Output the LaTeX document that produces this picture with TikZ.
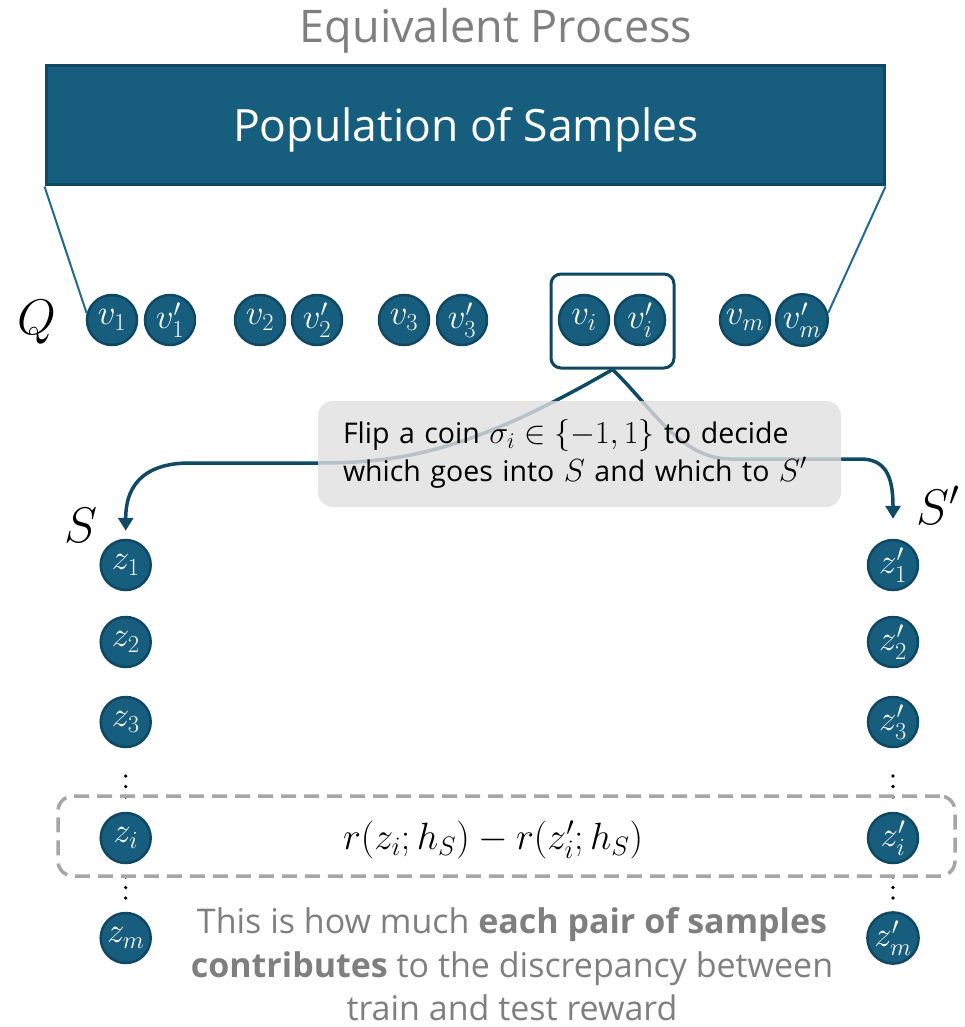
\RequirePackage{fix-cm}
\documentclass[tikz,border=0pt]{standalone}
\usepackage[no-math]{fontspec}
\newfontfamily\aptos{Open Sans}
\usetikzlibrary{arrows.meta}
\definecolor{teal1}{HTML}{175E7E}
\definecolor{tealdk}{HTML}{0F4862}
\definecolor{linec}{HTML}{1E6B8E}
\definecolor{arrc}{HTML}{0E4A66}
\definecolor{gtext}{HTML}{7F7F7F}
\definecolor{dashc}{HTML}{A6A6A6}
\definecolor{callfill}{HTML}{E0E0E0}
\tikzset{
  banner/.style={draw=tealdk, line width=3pt, fill=teal1, minimum width=838pt, minimum height=119pt, inner sep=0pt},
  smp/.style={circle, draw=tealdk, line width=2.5pt, fill=teal1, minimum size=50pt, inner sep=0pt, text=white, font=\fontsize{35}{38}\selectfont},
  selbox/.style={draw=tealdk, line width=3pt, rounded corners=10pt, minimum width=123pt, minimum height=94pt},
  conn/.style={draw=linec, line width=2pt},
  arr/.style={draw=arrc, line width=3.5pt, -{Triangle[length=13pt,width=15pt]}},
  callout/.style={rounded corners=15pt, fill=callfill, fill opacity=0.8, text opacity=1, minimum width=523pt, minimum height=106pt, text width=473pt, align=left, inner xsep=25pt, inner ysep=0pt, font=\aptos\fontsize{28.5}{38}\selectfont},
  pairbox/.style={draw=dashc, line width=3.5pt, dash pattern=on 15pt off 8pt, rounded corners=15pt, minimum width=897pt, minimum height=80pt},
  btxt/.style={anchor=base, text=gtext, font=\aptos\fontsize{34}{44}\selectfont},
  setlbl/.style={anchor=base west, font=\fontsize{50}{56}\selectfont},
}
\begin{document}
\begin{tikzpicture}[x=1pt,y=-1pt]
\useasboundingbox (0,0) rectangle (964,1027);
% title and banner
\node[anchor=base, text=gtext, font=\aptos\fontsize{45}{52}\selectfont] (title) at (496,43) {Equivalent Process};
\node[banner] (pop) at (465,125.5) {};
\node[anchor=base, text=white, font=\aptos\fontsize{44.5}{52}\selectfont] (poptxt) at (466,142) {Population of Samples};
% Q row
\node[setlbl] (Q) at (14,334) {$Q$};
\node[smp] (v1) at (112,320) {$v_1$};
\node[smp] (v1p) at (170,320) {$v'_1$};
\node[smp] (v2) at (260,320) {$v_2$};
\node[smp] (v2p) at (317,320) {$v'_2$};
\node[smp] (v3) at (404,320) {$v_3$};
\node[smp] (v3p) at (462,320) {$v'_3$};
\node[smp] (vi) at (584,320) {$v_i$};
\node[smp] (vip) at (640,320) {$v'_i$};
\node[smp] (vm) at (745,320) {$v_m$};
\node[smp] (vmp) at (802,320) {$v'_m$};
\node[selbox] (sel) at (612.5,321) {};
\draw[conn] (pop.south west) -- (v1.165);
\draw[conn] (pop.south east) -- (vmp.15);
% S and S'
\node[setlbl] (S) at (61,542) {$S$};
\node[setlbl] (Sp) at (913,524) {$S'$};
\node[smp] (z1) at (125.7,565) {$z_1$};
\node[smp] (z2) at (125.7,642) {$z_2$};
\node[smp] (z3) at (125.7,722) {$z_3$};
\node[smp] (zi) at (125.7,838) {$z_i$};
\node[smp] (zm) at (125.7,938) {$z_m$};
\node[smp] (z1p) at (893,565) {$z'_1$};
\node[smp] (z2p) at (893,642) {$z'_2$};
\node[smp] (z3p) at (893,722) {$z'_3$};
\node[smp] (zip) at (893,838) {$z'_i$};
\node[smp] (zmp) at (893,938) {$z'_m$};
\foreach \y in {776,786.5,797,877,887.5,898} {
  \fill (125.7,\y) circle (1.8);
  \fill (893,\y) circle (1.8);
}
% arrows
\draw[arr, shorten >=8pt] (sel.south) .. controls (470,452) and (400,463) .. (318,463) -- (190,463) .. controls (150,463) and (125.7,480) .. (z1.north);
\draw[arr, shorten >=20pt] (sel.south) .. controls (650,405) and (680,459) .. (730,459) -- (860,459) .. controls (885,459) and (893,475) .. (z1p.north);
% callout
\node[callout] (coin) at (579.5,454) {Flip a coin {\fontsize{32}{38}\selectfont$\sigma_i \in \{-1,1\}$} to decide\\ which goes into {\fontsize{32}{38}\selectfont$S$} and which to {\fontsize{32}{38}\selectfont$S'$}};
% pair box
\node[pairbox] (pair) at (506.5,836) {};
\node[font=\fontsize{38}{42}\selectfont] (rexpr) at (493,840) {$r(z_i;h_S)-r\bigl(z'_i;h_S\bigr)$};
% bottom text
\node[btxt] (t1) at (512,933) {This is how much \textbf{each pair of samples}};
\node[btxt] (t2) at (512,977) {\textbf{contributes} to the discrepancy between};
\node[btxt] (t3) at (512,1020) {train and test reward};
\end{tikzpicture}
\end{document}
